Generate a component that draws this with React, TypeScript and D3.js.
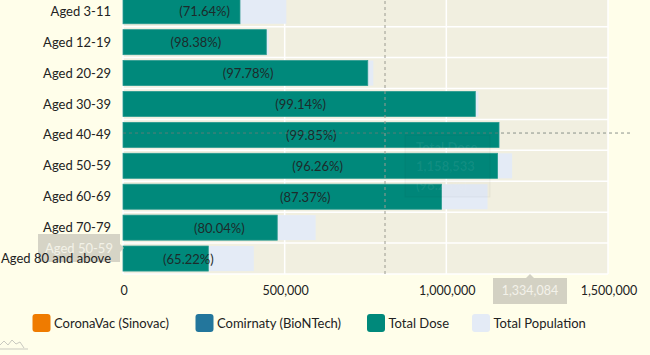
import React from "react";
import * as d3 from "d3";

const categories = [
  "Aged 3-11",
  "Aged 12-19",
  "Aged 20-29",
  "Aged 30-39",
  "Aged 40-49",
  "Aged 50-59",
  "Aged 60-69",
  "Aged 70-79",
  "Aged 80 and above",
];
const totalPopulation = [505000, 450500, 774200, 1099000, 1164600, 1203500, 1127500, 596000, 404500];
const totalDose = [361800, 443200, 757000, 1089600, 1162900, 1158533, 985000, 477000, 263800];
const percentLabels = ["71.64%", "98.38%", "97.78%", "99.14%", "99.85%", "96.26%", "87.37%", "80.04%", "65.22%"];
const xTicks = [0, 500000, 1000000, 1500000];
const legendItems = ["CoronaVac (Sinovac)", "Comirnaty (BioNTech)", "Total Dose", "Total Population"];
const legendColors = ["#ef7b00", "#23769c", "#00897b", "#e4ebf6"];

const FONT = "Lato, 'Noto Sans', sans-serif";

export default function App() {
  const W = 650;
  const H = 355;
  const x = d3.scaleLinear().domain([0, 1500000]).range([123, 608]);
  const y = d3.scaleBand<string>().domain(categories).range([-4.2, 274]).padding(0);
  const bw = y.bandwidth();
  const barH = bw * 0.81;
  const fmt = d3.format(",");
  const legendX = [32.5, 195.5, 367, 472];

  const hoverX = 385;
  const hoverY = (y("Aged 40-49") as number) + bw * 0.44;

  return (
    <div style={{ position: "fixed", left: 0, top: 0, width: W, height: H }}>
      <svg width={W} height={H} style={{ display: "block", fontFamily: FONT }}>
        <rect x={0} y={0} width={W} height={H} fill="#fffeea" />
        <rect x={x(0)} y={-5} width={x(1500000) - x(0)} height={279} fill="#f1efe0" />
        {/* vertical grid */}
        {xTicks.map((t) => (
          <line key={"g" + t} x1={x(t)} x2={x(t)} y1={-5} y2={274} stroke="#ffffff" strokeWidth={1.5} />
        ))}
        {/* horizontal grid */}
        {categories.map((c) => (
          <line key={"h" + c} x1={x(0)} x2={x(1500000)} y1={(y(c) as number) + bw} y2={(y(c) as number) + bw} stroke="#ffffff" strokeWidth={1.5} />
        ))}
        {/* population bars */}
        {categories.map((c, i) => (
          <rect key={"p" + c} x={x(0)} y={(y(c) as number) + (bw - barH) / 2} width={x(totalPopulation[i]) - x(0)} height={barH} fill="#e4ebf6" />
        ))}
        {/* dose bars */}
        {categories.map((c, i) => (
          <rect key={"d" + c} x={x(0)} y={(y(c) as number) + (bw - barH) / 2} width={x(totalDose[i]) - x(0)} height={barH} fill="#00897b" stroke="#2a9a8e" strokeWidth={0.8} />
        ))}
        {/* labels */}
        {categories.map((c, i) => (
          <text key={"l" + c} x={(x(0) + x(totalPopulation[i])) / 2} y={(y(c) as number) + bw / 2 + 0.5} dy="0.35em" textAnchor="middle" fontSize={13} fill="#1d2b2b">
            ({percentLabels[i]})
          </text>
        ))}
        {/* crosshairs */}
        <line x1={hoverX} x2={hoverX} y1={-5} y2={274} stroke="#9a9a90" strokeWidth={1} strokeDasharray="3,3" />
        <line x1={x(0)} x2={632} y1={hoverY} y2={hoverY} stroke="#6e7a74" strokeWidth={0.8} strokeDasharray="3,3" />
        {/* faded tooltip */}
        <rect x={405} y={135} width={85} height={62} fill="rgba(0,0,0,0.015)" stroke="rgba(0,0,0,0.04)" />
        <g fill="#ffffff" fillOpacity={0.07} fontWeight="bold" fontSize={13}>
          <text x={416} y={152}>Total Dose</text>
          <text x={416} y={171}>{fmt(1158533)}</text>
          <text x={416} y={190}>(96.26%)</text>
        </g>
        {/* y crosshair label */}
        <path d="M38,234 H120 V244 L124,248 L120,252 V262 H38 Z" fill="#cfcdbf" fillOpacity={0.85} />
        <text x={79} y={248} dy="0.35em" textAnchor="middle" fontSize={13} fill="#f3f2e8">Aged 50-59</text>
        {/* y axis labels */}
        {categories.map((c) => (
          <text key={"y" + c} x={111} y={(y(c) as number) + bw / 2} dy="0.35em" textAnchor="end" fontSize={13} fill="#222">
            {c}
          </text>
        ))}
        {/* x axis labels */}
        {xTicks.map((t) => (
          <text key={"t" + t} x={x(t) + 1} y={291} dy="0.35em" textAnchor="middle" fontSize={12.5} fill="#222">
            {fmt(t)}
          </text>
        ))}
        {/* x crosshair label */}
        <path d="M493,278 H526 L530,274 L534,278 H567 V304 H493 Z" fill="#d3d1c3" />
        <text x={530} y={291} dy="0.35em" textAnchor="middle" fontSize={12.5} fill="#f3f2ea">{fmt(1334084)}</text>
        {/* legend */}
        {legendItems.map((item, i) => (
          <g key={"lg" + item}>
            <rect x={legendX[i]} y={314} width={18} height={18} rx={3} fill={legendColors[i]} />
            <text x={legendX[i] + 21.5} y={323} dy="0.35em" fontSize={13} fill="#222">{item}</text>
          </g>
        ))}
        {/* small logo */}
        <path d="M0,345 L4,341 L8,345 L12,340 L16,344 L20,342 L24,348 M0,349 H28" fill="none" stroke="#c9c9c0" strokeWidth={1} />
      </svg>
    </div>
  );
}
